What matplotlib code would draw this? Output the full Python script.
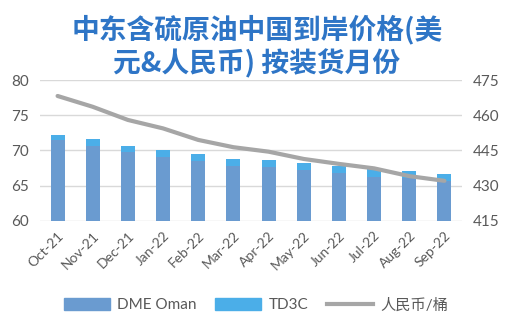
import matplotlib
matplotlib.use("Agg")
import matplotlib.pyplot as plt
import numpy as np
from matplotlib.lines import Line2D
from matplotlib.patches import Patch

plt.rcParams['font.family'] = ['Lato', 'Noto Sans CJK SC', 'DejaVu Sans']

months = ["Oct-21", "Nov-21", "Dec-21", "Jan-22", "Feb-22", "Mar-22",
          "Apr-22", "May-22", "Jun-22", "Jul-22", "Aug-22", "Sep-22"]
dme_oman = [71.5, 70.6, 69.8, 69.1, 68.5, 67.8, 67.6, 67.2, 66.75, 66.3, 66.1, 65.7]
td3c = [0.75, 1.0, 0.9, 1.0, 0.95, 1.05, 1.05, 1.0, 1.05, 1.2, 1.0, 1.0]
rmb = [468.2, 463.6, 458.0, 454.4, 449.5, 446.4, 444.5, 441.4, 439.3, 437.4, 434.1, 432.1]

c_dme = "#6a9bd0"
c_td3c = "#4baee8"
c_line = "#a6a6a6"
c_text = "#595959"
c_title = "#2e75c6"

fig = plt.figure(figsize=(5.12, 3.24), dpi=100)
ax = fig.add_axes([40/512, 1-221/324, (462-40)/512, (221-80)/324])
x = np.arange(len(months))
ax.bar(x, dme_oman, width=0.4, color=c_dme, zorder=2)
ax.bar(x, td3c, width=0.4, bottom=dme_oman, color=c_td3c, zorder=2)
ax.set_ylim(60, 80)
ax.set_yticks([60, 65, 70, 75, 80])
ax.set_xlim(-0.5, len(months)-0.5)
ax.grid(axis='y', color='#d9d9d9', linewidth=1, zorder=0)
ax.set_axisbelow(True)
for s in ax.spines.values():
    s.set_visible(False)
ax.tick_params(axis='both', length=0, colors=c_text, labelsize=11)
ax.tick_params(axis='y', pad=8)
ax.set_xticks(x)
ax.set_xticklabels(months, rotation=45, ha='right', rotation_mode='anchor', fontsize=10)
ax.tick_params(axis='x', pad=6)

ax2 = ax.twinx()
ax2.plot(x, rmb, color=c_line, linewidth=3, solid_capstyle='round', zorder=3)
ax2.set_ylim(415, 475)
ax2.set_yticks([415, 430, 445, 460, 475])
for s in ax2.spines.values():
    s.set_visible(False)
ax2.tick_params(axis='y', length=0, colors=c_text, labelsize=11, pad=8)

fig.text(257/512, 1-30/324, "中东含硫原油中国到岸价格(美", ha='center', va='center',
         fontsize=20, fontweight='bold', color=c_title, family=['Noto Sans CJK SC', 'DejaVu Sans'])
fig.text(257/512, 1-64/324, "元&人民币) 按装货月份", ha='center', va='center',
         fontsize=20, fontweight='bold', color=c_title, family=['Noto Sans CJK SC', 'DejaVu Sans'])

handles = [Patch(color=c_dme, label="DME Oman"),
           Patch(color=c_td3c, label="TD3C"),
           Line2D([0], [0], color=c_line, linewidth=3, label="人民币/桶")]
leg = fig.legend(handles=handles, loc='center', bbox_to_anchor=(256/512, 1-305/324), ncol=3,
                 frameon=False, fontsize=11, handlelength=3.0, handleheight=0.9, columnspacing=1.2,
                 handletextpad=0.5)
for t in leg.get_texts():
    t.set_color(c_text)

fig.savefig("out.png", dpi=100)
